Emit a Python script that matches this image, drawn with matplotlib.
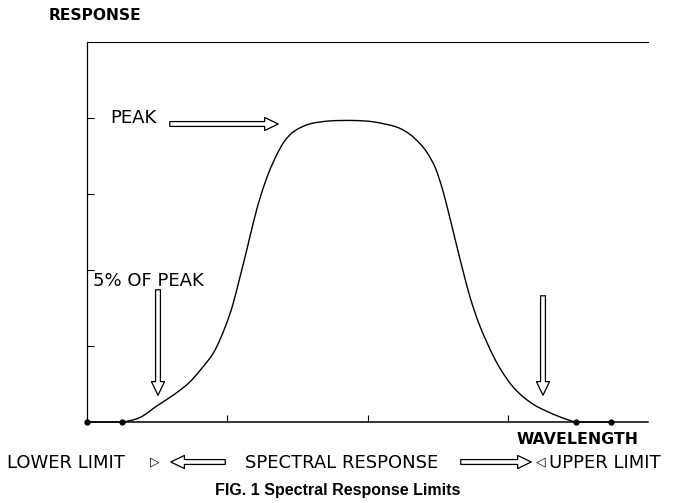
import matplotlib
matplotlib.use("Agg")
import matplotlib.pyplot as plt
from matplotlib.path import Path
from matplotlib.patches import PathPatch, FancyArrowPatch

# ---- data (x: wavelength units, y: response units) ----
wavelength = [0.0, 0.249, 0.377, 0.498, 0.626, 0.733, 0.826, 0.897, 0.947, 0.996,
              1.039, 1.089, 1.139, 1.189, 1.238, 1.295, 1.352, 1.409, 1.480, 1.587,
              1.730, 1.907, 2.050, 2.206, 2.299, 2.370, 2.427, 2.484, 2.534, 2.584,
              2.633, 2.683, 2.733, 2.790, 2.847, 2.904, 2.961, 3.032, 3.103, 3.189,
              3.274, 3.374, 3.488, 3.737]
response = [0.0, 0.0, 0.059, 0.211, 0.368, 0.526, 0.724, 0.895, 1.079, 1.303,
            1.539, 1.895, 2.263, 2.645, 2.974, 3.276, 3.513, 3.697, 3.829, 3.921,
            3.961, 3.967, 3.947, 3.882, 3.789, 3.671, 3.539, 3.342, 3.066, 2.711,
            2.342, 1.974, 1.632, 1.316, 1.066, 0.842, 0.658, 0.474, 0.342, 0.224,
            0.145, 0.066, 0.0, 0.0]
limit_points_x = [0.0, 0.249, 3.488, 3.737]
limit_points_y = [0.0, 0.0, 0.0, 0.0]
y_ticks = [1, 2, 3, 4]
x_ticks = [1, 2, 3]

W, H = 676, 503
fig = plt.figure(figsize=(W / 100, H / 100), dpi=100)
ax = fig.add_axes([87 / W, 1 - 422 / H, (648 - 87) / W, (422 - 42) / H])
ax.set_xlim(0, 4)
ax.set_ylim(0, 5)
ax.spines["right"].set_visible(False)
ax.spines["left"].set_linewidth(0.9)
ax.spines["bottom"].set_linewidth(1.1)
ax.spines["top"].set_linewidth(0.8)
ax.set_xticks(x_ticks)
ax.set_yticks(y_ticks)
ax.tick_params(direction="in", length=5, width=0.8, labelbottom=False, labelleft=False)

# smooth curve through the read points (Catmull-Rom -> cubic Bezier path)
pts = list(zip(wavelength, response))
n = len(pts)
verts = [pts[0], pts[1]]
codes = [Path.MOVETO, Path.LINETO]
for i in range(1, n - 2):
    p0 = pts[i - 1] if i - 1 >= 1 else (2 * pts[i][0] - pts[i + 1][0], pts[i][1])
    p1, p2 = pts[i], pts[i + 1]
    p3 = pts[i + 2] if i + 2 <= n - 2 else (2 * pts[i + 1][0] - pts[i][0], pts[i + 1][1])
    c1 = (p1[0] + (p2[0] - p0[0]) / 6, p1[1] + (p2[1] - p0[1]) / 6)
    c2 = (p2[0] - (p3[0] - p1[0]) / 6, p2[1] - (p3[1] - p1[1]) / 6)
    verts += [c1, c2, p2]
    codes += [Path.CURVE4] * 3
verts.append(pts[-1])
codes.append(Path.LINETO)
ax.add_patch(PathPatch(Path(verts, codes), fill=False, edgecolor="black",
                       linewidth=1.0, transform=ax.transData, clip_on=False))
ax.plot(limit_points_x, limit_points_y, "o", color="black", markersize=3.5, clip_on=False)


def fx(x):
    return x / W


def fy(y):
    return 1 - y / H


lab = dict(family="DejaVu Sans", fontsize=13, color="black")

fig.text(fx(49), fy(16), "RESPONSE", ha="left", va="center", fontweight="bold",
         family="DejaVu Sans", fontsize=11.2)
fig.text(fx(110), fy(118), "PEAK", ha="left", va="center", **lab)
fig.text(fx(93), fy(281), "5% OF PEAK", ha="left", va="center", **lab)
fig.text(fx(517), fy(440), "WAVELENGTH", ha="left", va="center", fontweight="bold",
         family="DejaVu Sans", fontsize=11.3)
fig.text(fx(7), fy(462.5), "LOWER LIMIT", ha="left", va="center", **lab)
fig.text(fx(155), fy(462), "\u25B7", ha="center", va="center", family="DejaVu Sans", fontsize=9)
fig.text(fx(245), fy(462.5), "SPECTRAL RESPONSE", ha="left", va="center", **lab)
fig.text(fx(541), fy(462), "\u25C1", ha="center", va="center", family="DejaVu Sans", fontsize=9)
fig.text(fx(549), fy(462.5), "UPPER LIMIT", ha="left", va="center", **lab)
fig.text(fx(338), fy(490), "FIG. 1 Spectral Response Limits", ha="center", va="center",
         family="Liberation Sans", fontweight="bold", fontsize=11.5)


def hollow_arrow(x0, y0, x1, y1):
    a = FancyArrowPatch((fx(x0), fy(y0)), (fx(x1), fy(y1)), transform=fig.transFigure,
                        arrowstyle="simple,head_length=1.4,head_width=1.35,tail_width=0.5",
                        mutation_scale=7, fc="white", ec="black", lw=0.9)
    fig.patches.append(a)


hollow_arrow(167, 124, 281, 124)      # PEAK arrow
hollow_arrow(158, 287, 158, 398)      # lower 5% arrow
hollow_arrow(543, 293, 543, 398)      # upper 5% arrow
hollow_arrow(228, 462, 168, 462)      # left spectral arrow
hollow_arrow(458, 462, 534, 462)      # right spectral arrow

fig.savefig("out.png", dpi=100)
